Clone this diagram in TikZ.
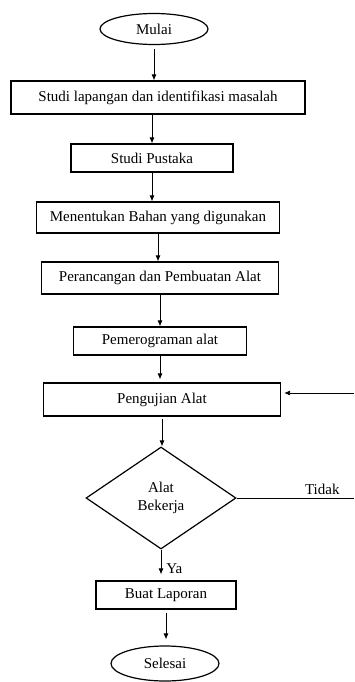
\documentclass[tikz,border=0pt]{standalone}
\usepackage{fontspec}
\setmainfont{Liberation Serif}
\usetikzlibrary{shapes.geometric,arrows.meta}

\tikzset{
  proses/.style={draw,rectangle,line width=1.2pt,inner sep=0pt,font=\fontsize{15}{18}\selectfont},
  terminal/.style={draw,ellipse,line width=1.2pt,inner sep=0pt,minimum width=108pt,font=\fontsize{15}{18}\selectfont},
  keputusan/.style={draw,diamond,line width=1.2pt,inner sep=0pt,minimum width=150pt,minimum height=102pt,align=center,font=\fontsize{15}{18}\selectfont},
  panah/.style={line width=0.8pt,-{Latex[length=6pt,width=5pt]}},
  garis/.style={line width=0.8pt}
}

\begin{document}
\begin{tikzpicture}[x=1pt,y=-1pt]
        \useasboundingbox (0,0) rectangle (354,682);
        \node[terminal,minimum height=31pt] at (154,29) (mulai) {Mulai};
        \node[proses,minimum width=294pt,minimum height=33pt] at (158,97.5) (lapangan) {Studi lapangan dan identifikasi masalah};
        \node[proses,minimum width=162pt,minimum height=28pt] at (152,158) (pustaka) {Studi Pustaka};
        \node[proses,minimum width=243pt,minimum height=31pt] at (158,217.5) (bahan) {Menentukan Bahan yang digunakan};
        \node[proses,minimum width=237pt,minimum height=32pt] at (160,278) (rancang) {Perancangan dan Pembuatan Alat};
        \node[proses,minimum width=173pt,minimum height=28pt] at (160,341) (program) {Pemerograman alat};
        \node[proses,minimum width=237pt,minimum height=33pt] at (162,399.5) (uji) {Pengujian Alat};
        \node[keputusan] at (161,498) (kerja) {Alat\\Bekerja};
        \node[proses,minimum width=140pt,minimum height=28pt] at (166,595) (laporan) {Buat Laporan};
        \node[terminal,minimum height=35pt] at (165,663.5) (selesai) {Selesai};
        \coordinate (tepi) at (354,393);
        \draw[panah,shorten <=4pt] (mulai.south) -- (mulai.south |- lapangan.north);
        \draw[panah] (pustaka.north |- lapangan.south) -- (pustaka.north);
        \draw[panah] (pustaka.south) -- (pustaka.south |- bahan.north);
        \draw[panah] (bahan.south) -- (bahan.south |- rancang.north);
        \draw[panah] (rancang.south) -- (rancang.south |- program.north);
        \draw[panah,shorten >=3pt] (program.south) -- (program.south |- uji.north);
        \draw[panah,shorten <=2pt] (uji.south) -- (uji.south |- kerja.north);
        \draw[panah,shorten >=6pt] (kerja.south) -- node[pos=0.62,right,inner sep=5pt,font=\fontsize{15}{18}\selectfont] {Ya} (kerja.south |- laporan.north);
        \draw[panah,shorten <=3pt,shorten >=6pt] (laporan.south) -- (laporan.south |- selesai.north);
        \draw[garis] (kerja.east) -- node[pos=0.73,above,inner sep=3pt,font=\fontsize{15}{18}\selectfont] {Tidak} (kerja.east -| tepi);
        \draw[panah,shorten >=3pt] (tepi) -- (uji.east |- tepi);
    \end{tikzpicture}
\end{document}
